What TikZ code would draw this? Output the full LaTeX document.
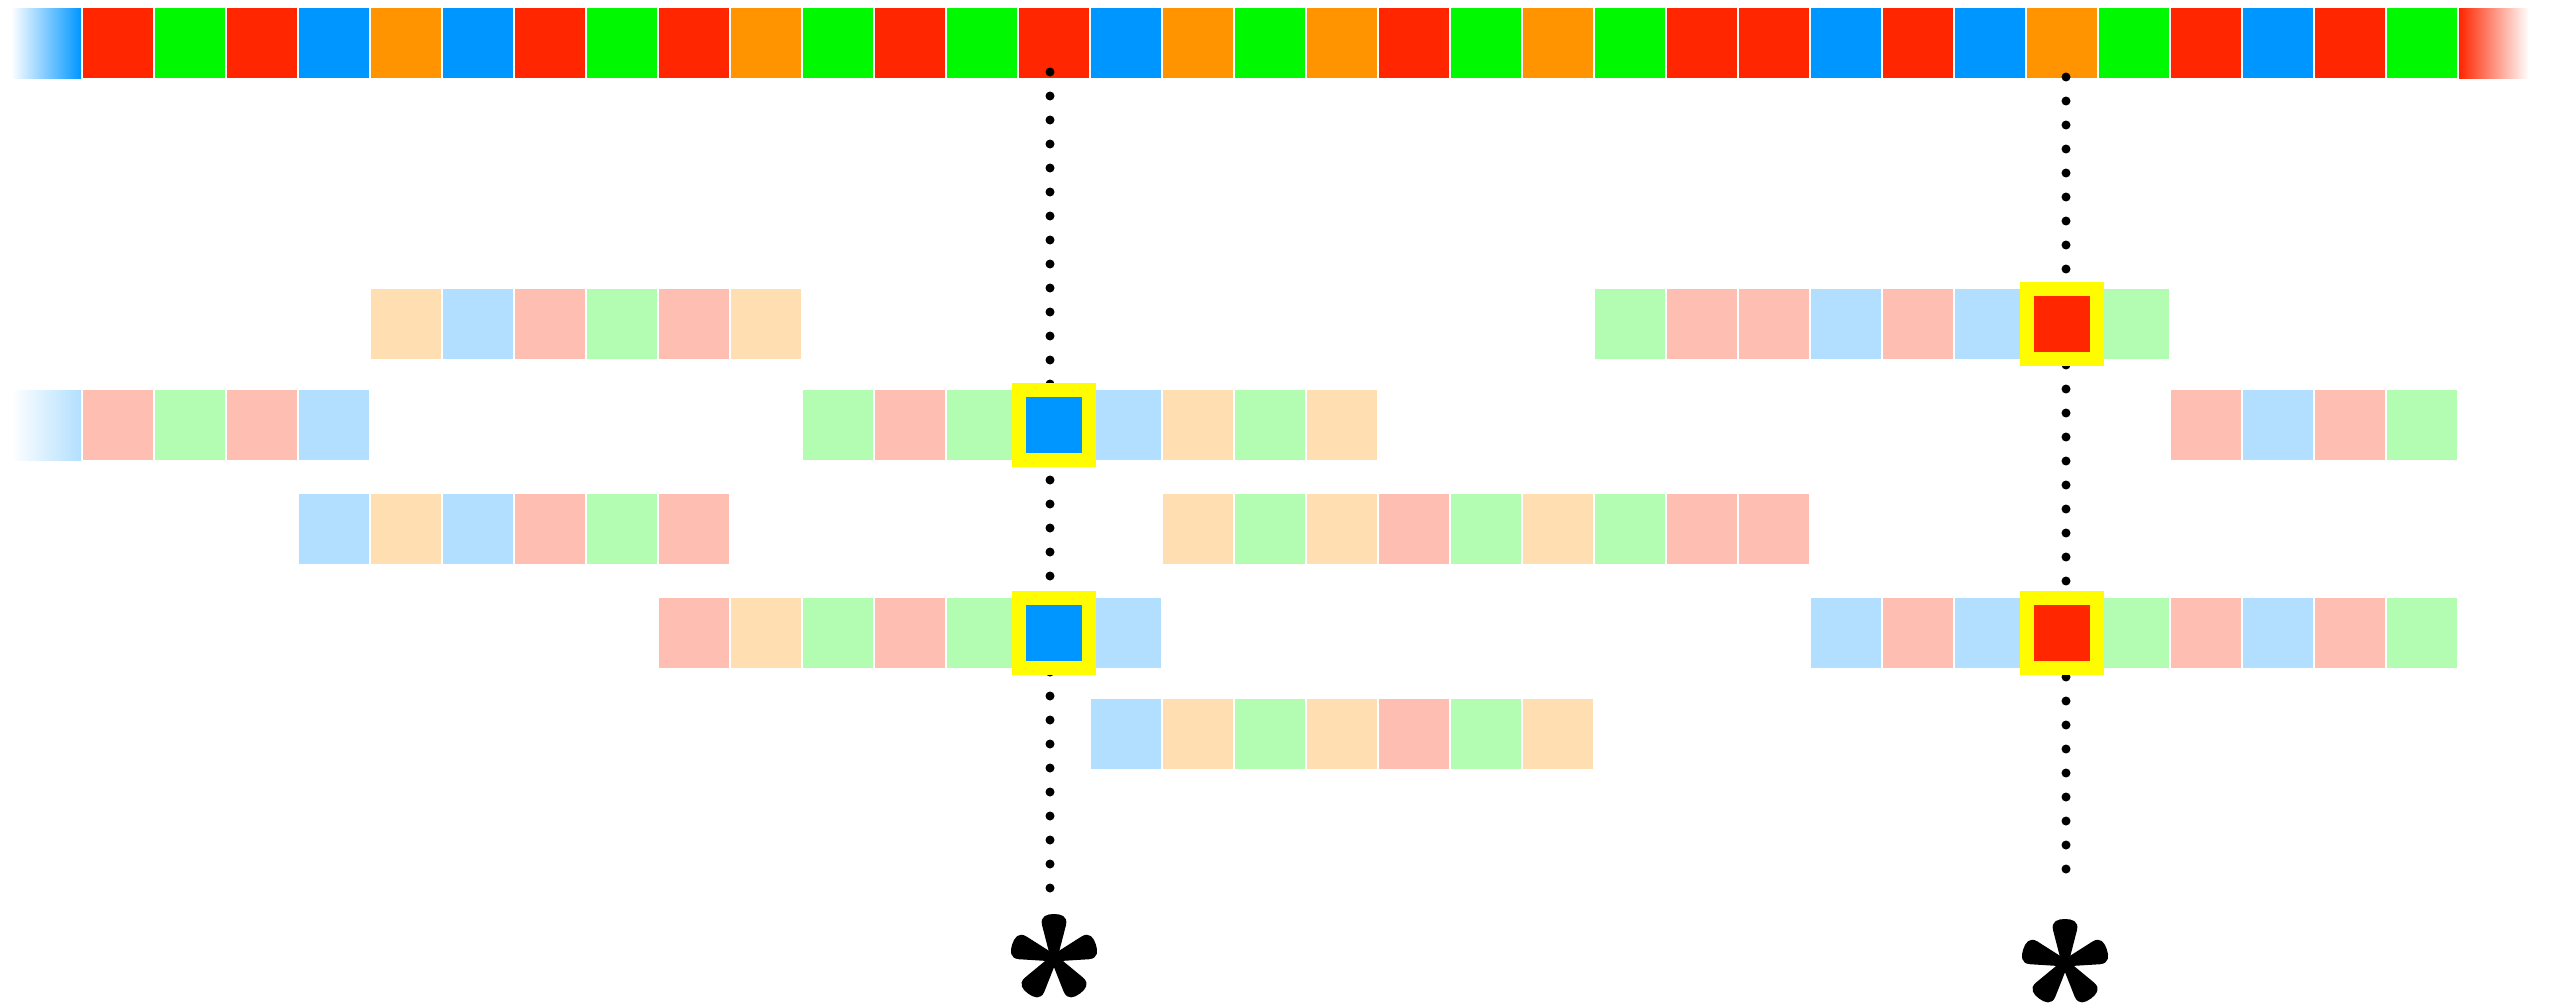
\documentclass[tikz,border=0pt]{standalone}
\definecolor{cR}{HTML}{FF2600}
\definecolor{cG}{HTML}{00F900}
\definecolor{cB}{HTML}{0096FF}
\definecolor{cO}{HTML}{FF9300}
\colorlet{lR}{cR!30!white}
\colorlet{lG}{cG!30!white}
\colorlet{lB}{cB!30!white}
\colorlet{lO}{cO!30!white}
\definecolor{hy}{HTML}{FFFB00}
\tikzset{
  cell/.style={rectangle, minimum width=70pt, minimum height=70pt, inner sep=0pt, outer sep=0pt, draw=none},
  snpcell/.style={cell, draw=hy, line width=13.5pt},
  dotline/.style={line width=9pt, line cap=round, dash pattern=on 0pt off 24pt},
  pics/asterisk/.style={code={
    \foreach \a in {0,72,144,216,288}{
      \fill[black, rotate=\a] (-3.5,0) -- (-12,-33) .. controls (-14,-42) and (-7,-44) .. (0,-44) .. controls (7,-44) and (14,-42) .. (12,-33) -- (3.5,0) -- cycle;
    }
    \fill[black] (0,0) circle (7pt);
  }}
}
% #1 name prefix, #2 y centre, #3 first cell index, #4 colour list
\newcommand\readcells[4]{%
  \foreach \c [count=\k from #3] in {#4} {
    \node[cell, fill=l\c] (#1-\k) at ({11+72*\k+35}, #2) {};
  }}
\begin{document}
\begin{tikzpicture}[x=1pt, y=-1pt]
\fill[white] (0,0) rectangle (2555,1004);
\useasboundingbox (0,0) rectangle (2555,1004);

% reference sequence
\node[cell, left color=white, right color=cB] (top-0) at (46,43) {};
\foreach \c [count=\k from 1] in {R,G,R,B,O,B,R,G,R,O,G,R,G,R,B,O,G,O,R,G,O,G,R,R,B,R,B,O,G,R,B,R,G} {
  \node[cell, fill=c\c] (top-\k) at ({11+72*\k+35}, 43) {};
}
\node[cell, left color=cR, right color=white] (top-34) at ({11+72*34+35},43) {};

% row A
\readcells{a1}{324}{5}{O,B,R,G,R,O}
\readcells{a2}{324}{22}{G,R,R,B,R,B}
\readcells{a2r}{324}{29}{G}
% row B
\node[cell, left color=white, right color=lB] (b0) at (46,425) {};
\readcells{b1}{425}{1}{R,G,R,B}
\readcells{b2}{425}{11}{G,R,G}
\readcells{b2r}{425}{15}{B,O,G,O}
\readcells{b3}{425}{30}{R,B,R,G}
% row C
\readcells{c1}{529}{4}{B,O,B,R,G,R}
\readcells{c2}{529}{16}{O,G,O,R,G,O,G,R,R}
% row D
\readcells{d1}{633}{9}{R,O,G,R,G}
\readcells{d1r}{633}{15}{B}
\readcells{d2}{633}{25}{B,R,B}
\readcells{d2r}{633}{29}{G,R,B,R,G}
% row E
\readcells{e1}{734}{15}{B,O,G,O,R,G,O}

% dotted SNP lines
\coordinate (s1top) at (1050,72);
\coordinate (s1bot) at (1050,888.2);
\coordinate (s2top) at (2066,77);
\coordinate (s2bot) at (2066,869.2);
\draw[dotline] (s1top) -- (s1bot);
\draw[dotline] (s2top) -- (s2bot);

% highlighted SNP cells
\node[snpcell, fill=cB] (snpB) at (1054,425) {};
\node[snpcell, fill=cB] (snpD1) at (1054,633) {};
\node[snpcell, fill=cR] (snpA) at (2062,324) {};
\node[snpcell, fill=cR] (snpD2) at (2062,633) {};

% asterisks
\pic at (1054,958) {asterisk};
\pic at (2065,963) {asterisk};
\end{tikzpicture}
\end{document}
